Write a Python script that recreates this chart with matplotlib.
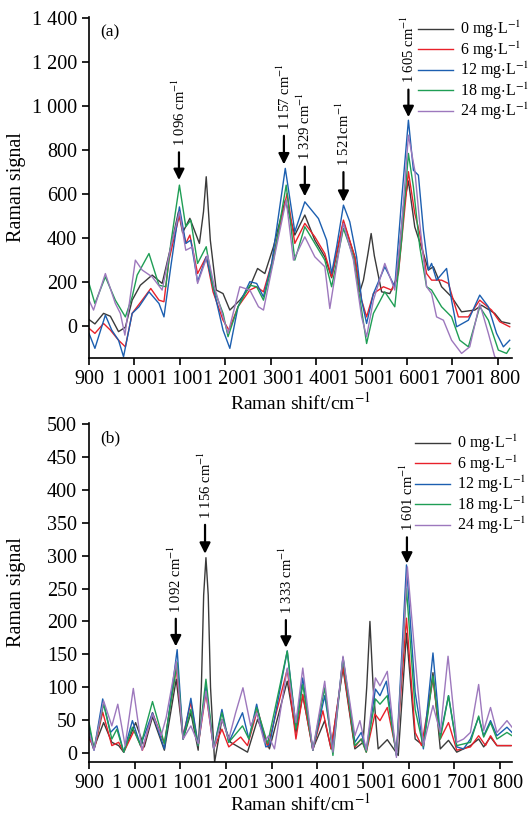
import matplotlib
matplotlib.use('Agg')
import matplotlib.pyplot as plt

plt.rcParams['font.family'] = ['Liberation Serif', 'DejaVu Serif']
plt.rcParams['mathtext.fontset'] = 'stix'

labels = [r'0 mg$\cdot$L$^{-1}$', r'6 mg$\cdot$L$^{-1}$', r'12 mg$\cdot$L$^{-1}$',
          r'18 mg$\cdot$L$^{-1}$', r'24 mg$\cdot$L$^{-1}$']
colors = ['#3a3a3a', '#e8212a', '#1c5fb0', '#1f9e55', '#9d78bd']

xtick_vals = [900, 1000, 1100, 1200, 1300, 1400, 1500, 1600, 1700, 1800]
xtick_labels = ['900', '1 000', '1 100', '1 200', '1 300', '1 400', '1 500', '1 600', '1 700', '1 800']

# ---- panel (a) ----
a_x_0 = [900, 913, 932, 947, 965, 980, 995, 1013, 1039, 1061, 1080, 1097, 1106, 1122, 1143, 1152, 1158, 1167,
         1180, 1195, 1210, 1232, 1254, 1271, 1287, 1306, 1332, 1353, 1375, 1397, 1419, 1434, 1460, 1485, 1496,
         1504, 1514, 1521, 1528, 1544, 1562, 1577, 1592, 1603, 1617, 1636, 1647, 1658, 1676, 1698, 1720, 1749,
         1764, 1793, 1808, 1826]
a_y_0 = [30, 10, 58, 45, -25, -5, 118, 186, 232, 194, 361, 520, 425, 490, 376, 520, 679, 391,
         164, 148, 73, 118, 179, 262, 239, 361, 573, 414, 505, 391, 315, 220, 474, 315, 156,
         209, 330, 421, 320, 156, 148, 209, 542, 660, 451, 330, 255, 270, 179, 133, 65, 73,
         95, 58, 20, 12]

a_x_6 = [900, 913, 932, 947, 965, 980, 995, 1017, 1036, 1054, 1065, 1076, 1099, 1113, 1122, 1139, 1158, 1173,
         1195, 1208, 1228, 1254, 1269, 1284, 1302, 1336, 1353, 1375, 1397, 1419, 1434, 1460, 1485, 1500, 1511,
         1526, 1548, 1566, 1581, 1603, 1617, 1628, 1643, 1654, 1676, 1691, 1713, 1735, 1760, 1786, 1804, 1826]
a_y_6 = [-10, -33, 12, -18, -64, -94, 58, 118, 171, 118, 111, 300, 505, 376, 414, 239, 315, 156,
         27, -18, 88, 164, 179, 156, 285, 603, 376, 467, 406, 330, 224, 482, 315, 118, 42,
         148, 179, 164, 239, 702, 512, 421, 239, 209, 209, 194, 42, 42, 118, 73, 20, -3]

a_x_12 = [900, 913, 936, 950, 965, 976, 995, 1010, 1032, 1054, 1065, 1080, 1099, 1113, 1124, 1139, 1158, 1173,
          1195, 1210, 1228, 1254, 1269, 1284, 1302, 1332, 1353, 1375, 1390, 1405, 1423, 1434, 1445, 1460, 1474,
          1489, 1500, 1511, 1526, 1551, 1573, 1588, 1603, 1614, 1625, 1636, 1647, 1654, 1665, 1687, 1698, 1709,
          1735, 1760, 1779, 1797, 1812, 1826]
a_y_12 = [-33, -101, 50, -18, -64, -139, 58, 88, 156, 103, 42, 270, 542, 376, 391, 202, 315, 179,
          -18, -101, 88, 202, 194, 133, 285, 717, 429, 565, 527, 489, 391, 239, 360, 550, 474,
          315, 118, 12, 148, 270, 179, 573, 936, 709, 686, 436, 255, 285, 209, 262, 118, -3,
          27, 141, 88, -33, -94, -64]

a_x_18 = [900, 913, 936, 958, 980, 995, 1006, 1032, 1054, 1069, 1080, 1099, 1113, 1124, 1139, 1158, 1173, 1195,
          1206, 1228, 1254, 1269, 1284, 1306, 1334, 1353, 1375, 1397, 1419, 1434, 1460, 1482, 1500, 1511, 1526,
          1551, 1573, 1588, 1603, 1614, 1628, 1643, 1654, 1676, 1698, 1716, 1735, 1760, 1779, 1801, 1819, 1826]
a_y_18 = [194, 103, 224, 118, 42, 133, 232, 330, 186, 179, 376, 641, 452, 482, 285, 361, 179, 58,
          -48, 88, 186, 179, 118, 300, 641, 300, 452, 376, 300, 179, 444, 315, 73, -79, 58,
          156, 88, 391, 785, 633, 360, 179, 164, 88, 42, -64, -94, 88, 27, -109, -124, -101]

a_x_24 = [900, 910, 936, 958, 969, 979, 1002, 1017, 1039, 1061, 1080, 1099, 1113, 1128, 1139, 1161, 1176, 1195,
          1206, 1232, 1254, 1273, 1284, 1302, 1334, 1350, 1375, 1397, 1419, 1430, 1460, 1482, 1500, 1511, 1526,
          1551, 1573, 1588, 1603, 1617, 1628, 1643, 1654, 1665, 1680, 1698, 1720, 1738, 1760, 1779, 1793, 1812,
          1826]
a_y_24 = [118, 73, 239, 103, 58, -41, 300, 255, 224, 164, 361, 520, 345, 361, 194, 323, 179, 42,
          -33, 179, 164, 88, 73, 255, 573, 300, 406, 315, 270, 80, 467, 300, 42, -48, 118,
          285, 164, 451, 868, 709, 467, 179, 148, 42, 27, -64, -124, -94, 103, -33, -139, -170,
          -170]

# ---- panel (b) ----
b_x_0 = [900, 910, 932, 950, 965, 976, 1002, 1021, 1039, 1065, 1091, 1106, 1123, 1139, 1146, 1151, 1156, 1161,
         1166, 1175, 1191, 1210, 1247, 1269, 1295, 1334, 1353, 1368, 1390, 1416, 1430, 1456, 1482, 1500, 1508,
         1515, 1522, 1533, 1553, 1577, 1595, 1614, 1632, 1653, 1669, 1687, 1705, 1735, 1753, 1764, 1779, 1793,
         1823]
b_y_0 = [26, 6, 46, 16, 11, 1, 46, 9, 55, 4, 112, 21, 61, 4, 100, 240, 297, 240,
         100, -14, 51, 16, 1, 51, 6, 109, 31, 87, 6, 49, 6, 129, 6, 16, 100,
         200, 100, 6, 20, -4, 182, 21, 11, 122, 6, 19, 1, 11, 21, 9, 24, 11,
         11]

b_x_6 = [900, 913, 930, 950, 965, 976, 999, 1017, 1039, 1065, 1091, 1106, 1123, 1139, 1156, 1173, 1191, 1206,
         1232, 1247, 1269, 1291, 1334, 1353, 1368, 1390, 1412, 1430, 1456, 1482, 1496, 1507, 1526, 1537, 1553,
         1573, 1595, 1614, 1628, 1653, 1669, 1687, 1705, 1735, 1753, 1768, 1779, 1793, 1826]
b_y_6 = [21, 9, 62, 11, 16, 1, 34, 4, 61, 14, 129, 26, 77, 11, 91, 6, 36, 9,
         24, 11, 66, 9, 127, 21, 89, 4, 64, 6, 132, 9, 21, 1, 59, 49, 69,
         1, 205, 31, 11, 112, 21, 46, 4, 9, 26, 11, 26, 11, 11]

b_x_12 = [900, 911, 930, 947, 961, 976, 995, 1013, 1039, 1065, 1093, 1106, 1123, 1139, 1156, 1173, 1191, 1206,
          1236, 1250, 1267, 1287, 1295, 1334, 1353, 1368, 1390, 1416, 1434, 1456, 1482, 1496, 1507, 1527, 1537,
          1551, 1573, 1595, 1614, 1621, 1632, 1653, 1669, 1687, 1705, 1720, 1735, 1753, 1764, 1779, 1793, 1815,
          1826]
b_y_12 = [41, 4, 82, 31, 41, 1, 49, 11, 61, 6, 157, 21, 83, 11, 102, 6, 66, 16,
          61, 21, 74, 9, 11, 155, 41, 114, 4, 87, 6, 145, 16, 31, 4, 97, 87,
          109, -4, 286, 92, 61, 6, 152, 26, 87, 9, 6, 21, 54, 26, 49, 26, 39,
          31]

b_x_18 = [900, 911, 932, 950, 961, 976, 995, 1013, 1039, 1065, 1093, 1106, 1123, 1139, 1156, 1173, 1191, 1206,
          1236, 1250, 1267, 1291, 1334, 1353, 1368, 1390, 1416, 1434, 1456, 1482, 1496, 1507, 1527, 1537, 1553,
          1573, 1595, 1614, 1632, 1653, 1669, 1687, 1705, 1735, 1753, 1764, 1779, 1793, 1815, 1826]
b_y_18 = [46, 6, 74, 21, 36, 1, 39, 11, 78, 14, 137, 21, 66, 11, 112, 6, 61, 16,
          41, 21, 69, 14, 155, 36, 104, 4, 99, -4, 145, 11, 21, 1, 82, 74, 87,
          -4, 250, 66, 9, 117, 21, 87, 11, 16, 56, 24, 46, 21, 31, 26]

b_x_24 = [900, 911, 932, 950, 963, 979, 997, 1016, 1039, 1058, 1069, 1091, 1106, 1123, 1139, 1156, 1173, 1191,
          1206, 1221, 1237, 1254, 1267, 1284, 1293, 1306, 1334, 1353, 1368, 1390, 1416, 1434, 1456, 1482, 1493,
          1507, 1527, 1537, 1553, 1573, 1597, 1619, 1632, 1653, 1669, 1686, 1705, 1720, 1735, 1753, 1764, 1779,
          1793, 1815, 1826]
b_y_24 = [31, 4, 79, 41, 74, 11, 98, 4, 59, 26, 54, 139, 21, 41, 14, 94, 6, 51,
          21, 61, 99, 41, 61, 16, 26, 6, 129, 46, 129, 4, 109, 1, 147, 26, 49,
          4, 114, 102, 124, -7, 283, 104, 11, 72, 31, 147, 16, 21, 31, 104, 34, 69,
          31, 49, 39]

# peak marks: label, x, arrow tip y, arrow tail y
a_peaks = [(r'1 096 cm$^{-1}$', 1098, 664, 790),
           (r'1 157 cm$^{-1}$', 1329, 735, 865),
           (r'1 329 cm$^{-1}$', 1375, 590, 725),
           (r'1 521cm$^{-1}$', 1460, 565, 700),
           (r'1 605 cm$^{-1}$', 1603, 950, 1075)]
b_peaks = [(r'1 092 cm$^{-1}$', 1090, 162, 204),
           (r'1 156 cm$^{-1}$', 1154, 303, 347),
           (r'1 333 cm$^{-1}$', 1331, 160, 202),
           (r'1 601 cm$^{-1}$', 1596, 288, 328)]


def draw_panel(ax, xs, ys, xlim, ylim, yticks, ytick_labels, peaks, gap, tag, leg_anchor, xpad):
    for x, y, c, lab in zip(xs, ys, colors, labels):
        ax.plot(x, y, color=c, lw=1.0, label=lab)
    ax.set_xlim(*xlim)
    ax.set_ylim(*ylim)
    ax.set_xticks(xtick_vals)
    ax.set_xticklabels(xtick_labels)
    ax.set_yticks(yticks)
    ax.set_yticklabels(ytick_labels)
    for s in ['top', 'right']:
        ax.spines[s].set_visible(False)
    for s in ['left', 'bottom']:
        ax.spines[s].set_linewidth(1.2)
    ax.tick_params(direction='out', length=5, width=1.2, labelsize=14.5)
    ax.set_xlabel(r'Raman shift/cm$^{-1}$', fontsize=14, labelpad=xpad)
    ax.set_ylabel('Raman signal', fontsize=14.5)
    ax.yaxis.set_label_coords(-0.148, 0.5)
    for lab, px, tip, tail in peaks:
        ax.annotate('', xy=(px, tip), xytext=(px, tail),
                    arrowprops=dict(arrowstyle='-|>', color='black', lw=1.6,
                                    mutation_scale=16, shrinkA=0, shrinkB=0))
        ax.text(px, tail + gap, lab, rotation=90, ha='center', va='bottom', fontsize=10.5)
    ax.text(0.027, 0.977, tag, transform=ax.transAxes, ha='left', va='top', fontsize=12.5)
    ax.legend(loc='upper left', bbox_to_anchor=leg_anchor, frameon=False, fontsize=11.5,
              handlelength=2.2, handletextpad=0.45, labelspacing=-0.05,
              borderpad=0, borderaxespad=0)


fig = plt.figure(figsize=(5.32, 8.15), dpi=100)
ax_a = fig.add_axes([0.1673, 0.5607, 0.7951, 0.4184])
ax_b = fig.add_axes([0.1673, 0.0650, 0.7951, 0.4160])

draw_panel(ax_a, [a_x_0, a_x_6, a_x_12, a_x_18, a_x_24],
           [a_y_0, a_y_6, a_y_12, a_y_18, a_y_24],
           (900, 1831), (-145, 1405), [0, 200, 400, 600, 800, 1000, 1200, 1400],
           ['0', '200', '400', '600', '800', '1 000', '1 200', '1 400'],
           a_peaks, 28, '(a)', (0.778, 0.994), 2)

draw_panel(ax_b, [b_x_0, b_x_6, b_x_12, b_x_18, b_x_24],
           [b_y_0, b_y_6, b_y_12, b_y_18, b_y_24],
           (900, 1826), (-14, 502), list(range(0, 501, 50)),
           [str(v) for v in range(0, 501, 50)],
           b_peaks, 9, '(b)', (0.771, 0.97), 0)

fig.savefig('out.png', dpi=100)
